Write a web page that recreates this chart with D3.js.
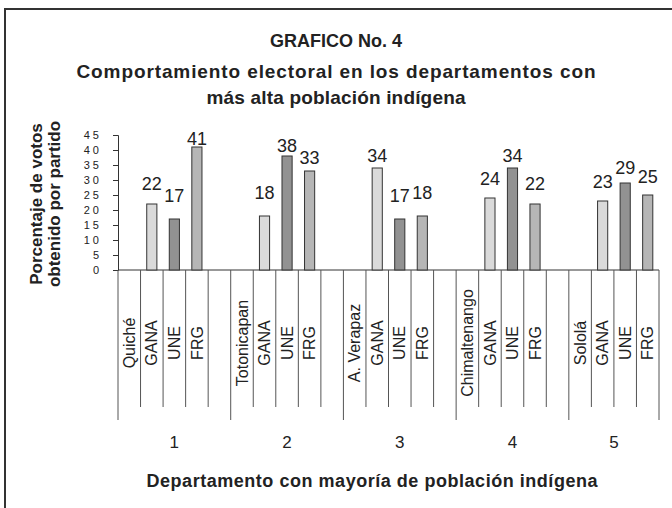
<!DOCTYPE html>
<html>
<head>
<meta charset="utf-8">
<script src="https://cdn.jsdelivr.net/npm/d3@7"></script>
<style>
  body { margin: 0; background: #fff; }
  svg text { font-family: "Liberation Sans", Arial, sans-serif; fill: #222; }
</style>
</head>
<body>
<svg width="672" height="508"></svg>
<script>
// data
const GROUPS = ["1", "2", "3", "4", "5"];
const DEPARTMENTS = ["Quiché", "Totonicapan", "A. Verapaz", "Chimaltenango", "Sololá"];
const PARTIES = ["GANA", "UNE", "FRG"];
const GANA = [22, 18, 34, 24, 23];
const UNE = [17, 38, 17, 34, 29];
const FRG = [41, 33, 18, 22, 25];
const Y_TICKS = [0, 5, 10, 15, 20, 25, 30, 35, 40, 45];

const colors = { GANA: "#dadada", UNE: "#929292", FRG: "#b6b6b6" };
const svg = d3.select("svg");

// one row per category cell (department name, 3 parties, blank spacer)
const cells = [];
GROUPS.forEach((g, i) => {
  cells.push({ group: i, label: DEPARTMENTS[i], party: null, value: 0 });
  cells.push({ group: i, label: "GANA", party: "GANA", value: GANA[i] });
  cells.push({ group: i, label: "UNE", party: "UNE", value: UNE[i] });
  cells.push({ group: i, label: "FRG", party: "FRG", value: FRG[i] });
  if (i < GROUPS.length - 1) cells.push({ group: i, label: "", party: null, value: 0 });
});

const plot = { left: 118, right: 659, top: 135, bottom: 270 };

const xScale = d3.scaleBand()
  .domain(d3.range(cells.length))
  .range([plot.left, plot.right]);

const yScale = d3.scaleLinear()
  .domain([0, 45])
  .range([plot.bottom, plot.top]);

// labels in the original sit on their own (squeezed) scale
const labelScale = d3.scaleLinear()
  .domain([0, 45])
  .range([241.5, 136]);

//frame (only top and left edges fall inside the picture)
svg.append("rect")
  .attr("x", 5).attr("y", 9)
  .attr("width", 720).attr("height", 600)
  .attr("fill", "none")
  .attr("stroke", "#333")
  .attr("stroke-width", 2);

// titles
const titles = [
  { text: "GRAFICO No. 4", y: 47, size: 18, len: 132 },
  { text: "Comportamiento electoral en los departamentos con", y: 78, size: 19, len: 519 },
  { text: "más alta población indígena", y: 104, size: 19, len: 259 }
];
svg.selectAll(".title")
  .data(titles)
  .enter()
  .append("text")
  .attr("class", "title")
  .attr("x", 336)
  .attr("y", d => d.y)
  .attr("text-anchor", "middle")
  .attr("font-size", d => d.size)
  .attr("font-weight", "bold")
  .attr("textLength", d => d.len)
  .attr("lengthAdjust", "spacing")
  .text(d => d.text);

// y axis
const yAxis = d3.axisLeft(yScale)
  .tickValues(Y_TICKS)
  .tickSize(5)
  .tickPadding(11);

const gy = svg.append("g")
  .attr("transform", "translate(" + [plot.left, 0] + ")")
  .call(yAxis);
gy.select(".domain").attr("stroke", "#333");
gy.selectAll(".tick line").attr("stroke", "#333");
gy.selectAll(".tick text")
  .attr("font-size", 11)
  .attr("letter-spacing", 3)
  .attr("fill", "#222")
  .style("font-family", "\"Liberation Sans\", Arial, sans-serif");

// y axis title
svg.append("text")
  .attr("transform", "translate(42,204) rotate(-90)")
  .attr("text-anchor", "middle")
  .attr("font-size", 17)
  .attr("font-weight", "bold")
  .text("Porcentaje de votos");
svg.append("text")
  .attr("transform", "translate(60,204) rotate(-90)")
  .attr("text-anchor", "middle")
  .attr("font-size", 17)
  .attr("font-weight", "bold")
  .text("obtenido por partido");

// category axis: baseline + separators
svg.append("line")
  .attr("x1", plot.left).attr("x2", plot.right)
  .attr("y1", plot.bottom).attr("y2", plot.bottom)
  .attr("stroke", "#333");

const bounds = d3.range(cells.length + 1).map(i => ({
  x: i < cells.length ? xScale(i) : plot.right,
  long: i === cells.length || (i === 0 || cells[i].group !== cells[i - 1].group)
}));
svg.selectAll(".sep")
  .data(bounds)
  .enter()
  .append("line")
  .attr("class", "sep")
  .attr("x1", d => d.x).attr("x2", d => d.x)
  .attr("y1", plot.bottom)
  .attr("y2", d => (d.long ? 420 : 407))
  .attr("stroke", "#555");

// category labels
svg.selectAll(".cat")
  .data(cells)
  .enter()
  .append("text")
  .attr("class", "cat")
  .attr("transform", (d, i) => "translate(" + [xScale(i) + xScale.bandwidth() / 2, 343] + ") rotate(-90)")
  .attr("dy", "0.35em")
  .attr("text-anchor", "middle")
  .attr("font-size", 16)
  .text(d => d.label);

// group labels
svg.selectAll(".grp")
  .data(GROUPS)
  .enter()
  .append("text")
  .attr("class", "grp")
  .attr("x", (g, gi) => {
    const idx = cells.map((c, i) => i).filter(i => cells[i].group === gi);
    const x0 = xScale(idx[0]);
    const x1 = idx[idx.length - 1] + 1 < cells.length ? xScale(idx[idx.length - 1] + 1) : plot.right;
    return (x0 + x1) / 2;
  })
  .attr("y", 448)
  .attr("text-anchor", "middle")
  .attr("font-size", 17)
  .text(d => d);

// x axis title
svg.append("text")
  .attr("x", 372)
  .attr("y", 487)
  .attr("text-anchor", "middle")
  .attr("font-size", 18)
  .attr("font-weight", "bold")
  .attr("textLength", 451)
  .attr("lengthAdjust", "spacing")
  .text("Departamento con mayoría de población indígena");

// bars
const barData = cells.map((d, i) => Object.assign({ i }, d)).filter(d => d.party);
const barW = xScale.bandwidth() * 0.45;

svg.selectAll(".bar")
  .data(barData)
  .enter()
  .append("rect")
  .attr("class", "bar")
  .attr("x", d => xScale(d.i) + (xScale.bandwidth() - barW) / 2)
  .attr("y", d => yScale(d.value))
  .attr("width", barW)
  .attr("height", d => yScale(0) - yScale(d.value))
  .attr("fill", d => colors[d.party])
  .attr("stroke", "#333")
  .attr("stroke-width", 1);

// value labels
svg.selectAll(".val")
  .data(barData)
  .enter()
  .append("text")
  .attr("class", "val")
  .attr("x", d => xScale(d.i) + xScale.bandwidth() / 2)
  .attr("y", d => labelScale(d.value))
  .attr("text-anchor", "middle")
  .attr("font-size", 18)
  .text(d => d.value);
</script>
</body>
</html>
